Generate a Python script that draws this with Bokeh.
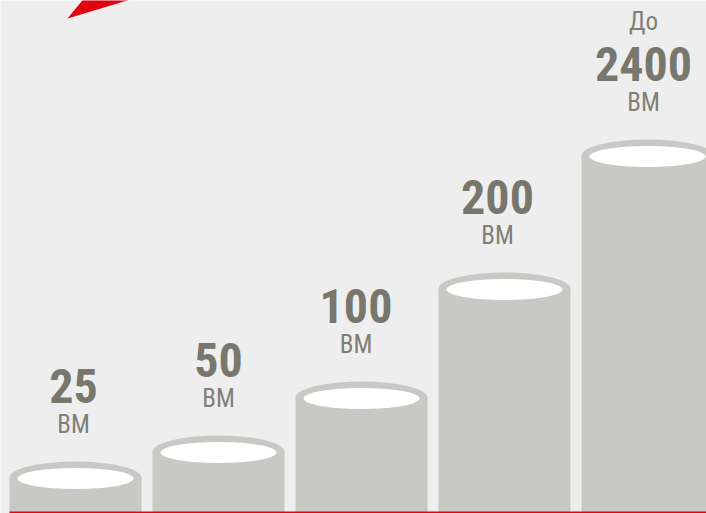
from bokeh.plotting import figure
from bokeh.models import Range1d, ColumnDataSource
from bokeh.core.properties import value
from bokeh.embed import file_html
from bokeh.resources import INLINE

# ---- data ----
labels = ["25", "50", "100", "200", "2400"]
prefixes = ["", "", "", "", "До"]
units = ["ВМ", "ВМ", "ВМ", "ВМ", "ВМ"]
levels = [34, 60, 114, 223, 356]   # visual column height (to top-ellipse centre)

# ---- layout / style constants ----
W, H = 706, 513
STEP = 143.0           # px between columns
FIRST = 75.0           # px of first column centre
BASE = 2               # y of baseline (px above bottom)
COL_W = 132 / STEP
label_dx = [-2, 0, -5.5, -7, -4]   # px nudges of the labels

BG = "#eeeeee"
GRAY = "#c8c8c4"
TXT = "#77776e"
TXT2 = "#7f7f77"
RED = "#e3000f"
FONT = value("Roboto Condensed")

x_start = -FIRST / STEP
x_end = (W - FIRST) / STEP

p = figure(width=W, height=H, x_range=Range1d(x_start, x_end), y_range=Range1d(0, H),
           output_backend="svg", toolbar_location=None, min_border=0,
           background_fill_color=BG, border_fill_color=BG)
p.axis.visible = False
p.grid.visible = False
p.outline_line_color = None

idx = list(range(len(labels)))
tops = [BASE + v for v in levels]
src = ColumnDataSource(dict(
    x=idx, top=tops, lx=[i + d / STEP for i, d in zip(idx, label_dx)],
    inner_y=[t - 1 for t in tops],
    num_y=[t + 16 + 57 + 19 for t in tops],
    unit_y=[t + 16 + 28 + 9 for t in tops],
    pre_y=[t + 16 + 108 + 10 for t in tops],
    label=labels, unit=units, pre=prefixes,
))

# column bodies
p.vbar(x="x", top="top", bottom=0, width=COL_W, source=src, fill_color=GRAY, line_color=None)
# top rims
p.ellipse(x="x", y="top", width=COL_W, height=32, source=src, fill_color=GRAY, line_color=None)
p.ellipse(x="x", y="inner_y", width=116 / STEP, height=21, source=src, fill_color="white", line_color=None)

# red baseline
p.quad(left=(9 - FIRST) / STEP, right=x_end + 1, bottom=0, top=BASE, fill_color=RED, line_color=None)

# red arrow tail (decoration)
arrow_px = [(67, 18), (90, -10), (160, -10)]
p.patch(x=[(a - FIRST) / STEP for a, _ in arrow_px], y=[H - b for _, b in arrow_px],
        fill_color=RED, line_color=None)

# labels
p.text(x="lx", y="num_y", text="label", source=src, text_font=FONT, text_font_style="bold",
       text_font_size="48px", text_color=TXT, text_align="center", text_baseline="alphabetic")
p.text(x="lx", y="unit_y", text="unit", source=src, text_font=FONT,
       text_font_size="25px", text_color=TXT2, text_align="center", text_baseline="alphabetic")
p.text(x="lx", y="pre_y", text="pre", source=src, text_font=FONT,
       text_font_size="25px", text_color=TXT2, text_align="center", text_baseline="alphabetic")

open("out.html", "w").write(file_html(p, INLINE))
